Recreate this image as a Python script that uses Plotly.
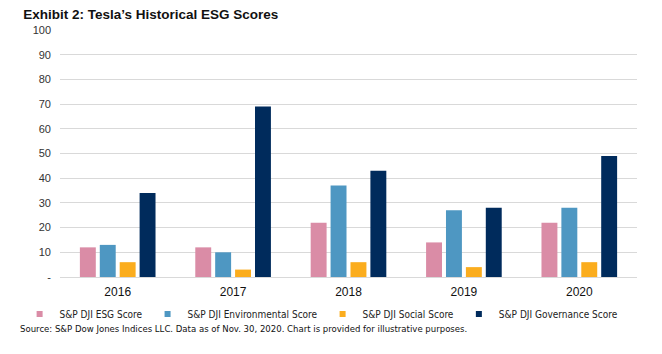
import plotly.graph_objects as go

years = ["2016", "2017", "2018", "2019", "2020"]
series_names = ["S&P DJI ESG Score", "S&P DJI Environmental Score",
                "S&P DJI Social Score", "S&P DJI Governance Score"]
esg = [12, 12, 22, 14, 22]
env = [13, 10, 37, 27, 28]
soc = [6, 3, 6, 4, 6]
gov = [34, 69, 43, 28, 49]
colors = ["#DA8CA6", "#4E97C2", "#FBAD1E", "#002B5C"]
y_ticks = [0, 10, 20, 30, 40, 50, 60, 70, 80, 90, 100]
y_labels = ["-"] + [str(v) for v in y_ticks[1:]]

fig = go.Figure()
for name, vals, c in zip(series_names, [esg, env, soc, gov], colors):
    fig.add_trace(go.Bar(x=years, y=vals, name=name, marker_color=c,
                         marker_line_width=0, showlegend=False))
# legend entries with small square symbols
for name, c in zip(series_names, colors):
    fig.add_trace(go.Scatter(x=[None], y=[None], mode="markers", name=name,
                             marker=dict(symbol="square", size=6, color=c),
                             showlegend=True))

font = "Liberation Sans, Arial, sans-serif"
narrow = "DejaVu Sans Condensed, sans-serif"
fig.update_layout(
    width=662, height=354,
    margin=dict(l=60, r=25, t=30, b=77),
    paper_bgcolor="white", plot_bgcolor="white",
    barmode="group", bargap=0.31, bargroupgap=0.2,
    font=dict(family=font, size=11, color="#333333"),
    title=dict(text="<b>Exhibit 2: Tesla’s Historical ESG Scores</b>",
               x=0.035, xanchor="left", y=0.96, yanchor="middle",
               font=dict(size=13.5, color="#111111", family=font)),
    yaxis=dict(range=[0, 100], tickvals=y_ticks, ticktext=y_labels,
               showgrid=True, gridcolor="#D9D9D9", gridwidth=1,
               zeroline=False, showline=False, ticks="",
               tickfont=dict(size=11, color="#333333"), ticklabelstandoff=8),
    xaxis=dict(showline=True, linecolor="#D9D9D9", linewidth=1, ticks="",
               tickfont=dict(size=12, color="#111111"), ticklabelstandoff=4),
    legend=dict(orientation="h", x=-0.07, xanchor="left", y=-0.15, yanchor="middle",
                font=dict(size=10, color="#222222", family=narrow), itemwidth=30,
                traceorder="normal", bgcolor="rgba(0,0,0,0)"),
    showlegend=True,
)
fig.add_annotation(text="Source: S&P Dow Jones Indices LLC. Data as of Nov. 30, 2020. Chart is provided for illustrative purposes.",
                   xref="paper", yref="paper", x=-0.073, y=-0.21, xanchor="left", yanchor="middle",
                   showarrow=False, font=dict(size=9.5, color="#111111", family=narrow))

fig.write_html("out.html")
